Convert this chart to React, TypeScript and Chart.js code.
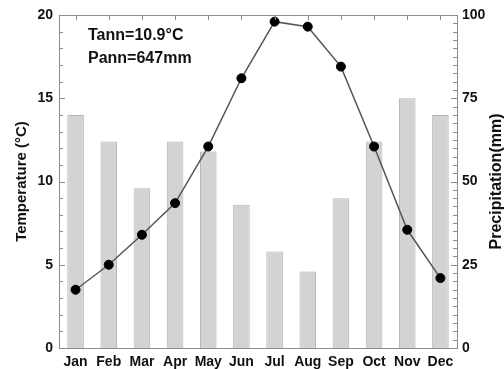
import React, { useEffect, useRef } from "react";
import { Chart, registerables } from "chart.js";

Chart.register(...registerables);

const months = ["Jan", "Feb", "Mar", "Apr", "May", "Jun", "Jul", "Aug", "Sep", "Oct", "Nov", "Dec"];
const temperature = [3.5, 5.0, 6.8, 8.7, 12.1, 16.2, 19.6, 19.3, 16.9, 12.1, 7.1, 4.2];
const precipitation = [70, 62, 48, 62, 59, 43, 29, 23, 45, 62, 75, 70];
const tempTicks = [0, 5, 10, 15, 20];
const precTicks = [0, 25, 50, 75, 100];
const annotationLines = ["Tann=10.9°C", "Pann=647mm"];
const leftTitle = "Temperature (°C)";
const rightTitle = "Precipitation(mm)";

const FONT = "'Liberation Sans', Arial, sans-serif";
const AXIS_COLOR = "#8c8c8c";

const decorPlugin = {
  id: "decor",
  beforeDatasetsDraw(chart: any) {
    const { ctx, chartArea, scales } = chart;
    const x = scales.x;
    ctx.save();
    ctx.strokeStyle = AXIS_COLOR;
    ctx.lineWidth = 1;
    // bottom category ticks (under bars)
    for (let i = 0; i < months.length; i++) {
      const px = Math.round(x.getPixelForValue(i)) + 0.5;
      ctx.beginPath();
      ctx.moveTo(px, chartArea.bottom);
      ctx.lineTo(px, chartArea.bottom - 5);
      ctx.stroke();
    }
    ctx.restore();
  },
  afterDraw(chart: any) {
    const { ctx, chartArea, scales } = chart;
    const x = scales.x;
    const yT = scales.yT;
    const yP = scales.yP;
    ctx.save();
    ctx.strokeStyle = AXIS_COLOR;
    ctx.lineWidth = 1;
    // frame top
    ctx.beginPath();
    ctx.moveTo(chartArea.left, chartArea.top + 0.5);
    ctx.lineTo(chartArea.right, chartArea.top + 0.5);
    ctx.stroke();
    // top ticks
    for (let i = 0; i < months.length; i++) {
      const px = Math.round(x.getPixelForValue(i)) + 0.5;
      ctx.beginPath();
      ctx.moveTo(px, chartArea.top);
      ctx.lineTo(px, chartArea.top + 5);
      ctx.stroke();
    }
    // left ticks
    for (let v = 0; v <= 20; v++) {
      const py = Math.round(yT.getPixelForValue(v)) + 0.5;
      const len = v % 5 === 0 ? 6 : 4;
      ctx.beginPath();
      ctx.moveTo(chartArea.left, py);
      ctx.lineTo(chartArea.left + len, py);
      ctx.stroke();
    }
    // right ticks
    for (let v = 0; v <= 100; v += 2.5) {
      const py = Math.round(yP.getPixelForValue(v)) + 0.5;
      const len = v % 25 === 0 ? 6 : 4;
      ctx.beginPath();
      ctx.moveTo(chartArea.right, py);
      ctx.lineTo(chartArea.right - len, py);
      ctx.stroke();
    }
    // titles
    ctx.fillStyle = "#111";
    ctx.textAlign = "center";
    ctx.textBaseline = "middle";
    const cy = (chartArea.top + chartArea.bottom) / 2;
    ctx.font = `bold 15px ${FONT}`;
    ctx.save();
    ctx.translate(22, cy);
    ctx.rotate(-Math.PI / 2);
    ctx.fillText(leftTitle, 0, 0);
    ctx.restore();
    ctx.font = `bold 16px ${FONT}`;
    ctx.save();
    ctx.translate(497, cy);
    ctx.rotate(-Math.PI / 2);
    ctx.fillText(rightTitle, 0, 0);
    ctx.restore();
    // annotation
    ctx.font = `bold 16px ${FONT}`;
    ctx.textAlign = "left";
    ctx.fillText(annotationLines[0], chartArea.left + 29, chartArea.top + 21);
    ctx.fillText(annotationLines[1], chartArea.left + 29, chartArea.top + 44);
    ctx.restore();
  },
};

export default function App() {
  const ref = useRef<HTMLCanvasElement | null>(null);
  useEffect(() => {
    const canvas = ref.current;
    if (!canvas) return;
    const tickFont = { family: FONT, size: 14, weight: "bold" as const };
    const chart = new Chart(canvas, {
      type: "bar",
      data: {
        labels: months,
        datasets: [
          {
            type: "line" as const,
            data: temperature,
            yAxisID: "yT",
            borderColor: "#555555",
            borderWidth: 1.5,
            pointRadius: 4.5,
            pointBackgroundColor: "#000",
            pointBorderColor: "#000",
            pointBorderWidth: 1,
            tension: 0,
            order: 1,
          } as any,
          {
            type: "bar" as const,
            data: precipitation,
            yAxisID: "yP",
            backgroundColor: "#d3d3d3",
            borderColor: "#b4b4b4",
            borderWidth: 1,
            barPercentage: 0.5,
            categoryPercentage: 1,
            order: 2,
          },
        ],
      },
      options: {
        responsive: false,
        animation: false,
        devicePixelRatio: 1,
        layout: { padding: { top: 15, left: 0, right: 0, bottom: 0 } },
        plugins: { legend: { display: false }, tooltip: { enabled: false } },
        scales: {
          x: {
            offset: true,
            grid: { display: false, drawTicks: false },
            border: { display: true, color: AXIS_COLOR },
            ticks: { font: tickFont, color: "#111", padding: 6, maxRotation: 0, autoSkip: false },
            afterFit: (s: any) => {
              s.height = 21;
            },
          },
          yT: {
            type: "linear",
            position: "left",
            min: 0,
            max: 20,
            afterBuildTicks: (s: any) => {
              s.ticks = tempTicks.map((v) => ({ value: v }));
            },
            grid: { display: false, drawTicks: false },
            border: { display: true, color: AXIS_COLOR },
            ticks: { font: tickFont, color: "#111", padding: 6 },
            afterFit: (s: any) => {
              s.width = 59;
            },
          },
          yP: {
            type: "linear",
            position: "right",
            min: 0,
            max: 100,
            afterBuildTicks: (s: any) => {
              s.ticks = precTicks.map((v) => ({ value: v }));
            },
            grid: { display: false, drawTicks: false },
            border: { display: true, color: AXIS_COLOR },
            ticks: { font: tickFont, color: "#111", padding: 5 },
            afterFit: (s: any) => {
              s.width = 47;
            },
          },
        },
      },
      plugins: [decorPlugin],
    });
    return () => chart.destroy();
  }, []);
  return (
    <div style={{ position: "fixed", left: 0, top: 0, width: 504, height: 369, background: "#fff" }}>
      <canvas ref={ref} width={504} height={369} style={{ display: "block" }} />
    </div>
  );
}
